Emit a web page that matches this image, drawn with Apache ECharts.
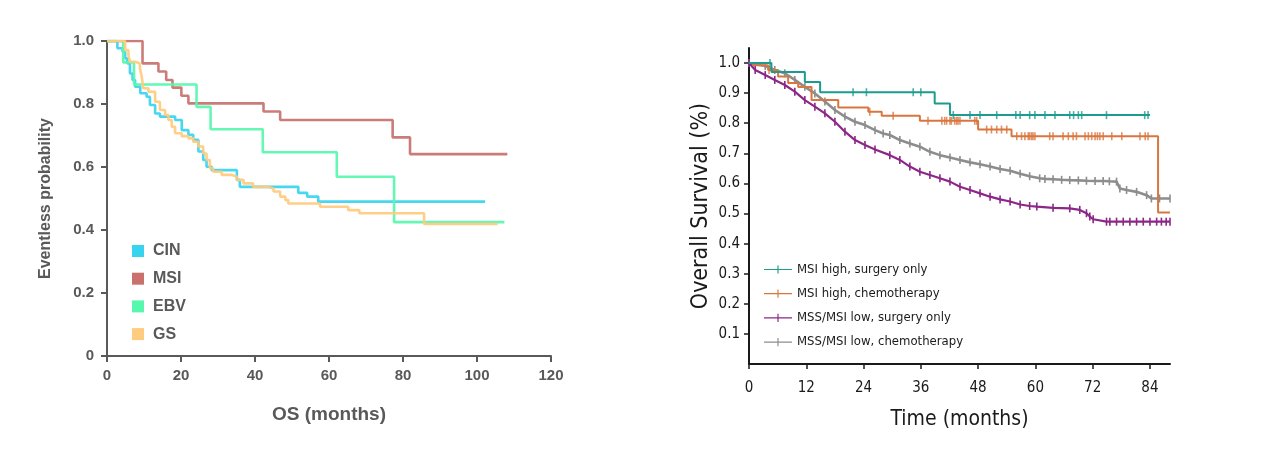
<!DOCTYPE html>
<html><head><meta charset="utf-8">
<script src="https://cdn.jsdelivr.net/npm/echarts@6/dist/echarts.min.js"></script>
<style>html,body{margin:0;padding:0;background:#fff}#c{width:1269px;height:475px}</style>
</head><body><div id="c"></div>
<script>
// ---------- Left chart data (OS, months vs eventless probability) ----------
const leftXTicks = [0, 20, 40, 60, 80, 100, 120];
const leftYTicks = [0, 0.2, 0.4, 0.6, 0.8, 1.0];
const leftNames = ['CIN', 'MSI', 'EBV', 'GS'];
const cin = [[0,1],[2.8,0.977],[4.2,0.966],[4.9,0.945],[5.5,0.929],[6.2,0.897],[6.9,0.876],[7.6,0.855],[9.0,0.834],[10.7,0.823],[11.6,0.797],[13.0,0.77],[14.3,0.76],[18.4,0.749],[20.2,0.717],[22.0,0.702],[23.3,0.686],[24.7,0.649],[26.0,0.622],[26.9,0.601],[28.3,0.59],[35.1,0.559],[35.9,0.537],[51.7,0.518],[54.1,0.506],[57.1,0.49],[102.2,0.49]];
const msi = [[0,1],[9.6,0.929],[13.9,0.903],[16.0,0.876],[17.7,0.852],[20.1,0.826],[22.0,0.802],[42.3,0.776],[46.8,0.749],[77.2,0.694],[81.9,0.641],[108.2,0.641]];
const ebv = [[0,1],[4.4,0.932],[7.3,0.862],[24.2,0.791],[28.0,0.72],[42.1,0.647],[62.1,0.569],[77.6,0.425],[107.4,0.425]];
const gs = [[0,1],[4.9,0.971],[5.8,0.955],[6.2,0.934],[7.6,0.929],[8.9,0.913],[9.4,0.887],[9.8,0.85],[11.2,0.839],[13.0,0.807],[14.3,0.781],[15.7,0.765],[16.6,0.749],[17.5,0.728],[18.4,0.707],[20.2,0.698],[22.0,0.691],[23.3,0.68],[24.7,0.665],[26.0,0.643],[26.9,0.622],[27.8,0.596],[28.7,0.585],[31.0,0.575],[33.7,0.569],[35.1,0.559],[36.9,0.548],[39.5,0.537],[43.2,0.532],[45.0,0.522],[46.8,0.506],[48.2,0.495],[49.0,0.484],[57.6,0.474],[65.2,0.463],[68.2,0.453],[85.7,0.419],[105.6,0.419]];

// ---------- Right chart data (time, months vs overall survival) ----------
const rightXTicks = [0, 12, 24, 36, 48, 60, 72, 84];
const rightYTicks = [0.1, 0.2, 0.3, 0.4, 0.5, 0.6, 0.7, 0.8, 0.9, 1.0];
const rightNames = ['MSI high, surgery only', 'MSI high, chemotherapy', 'MSS/MSI low, surgery only', 'MSS/MSI low, chemotherapy'];
const msiHighSurgery = [[0,1],[4.7,0.970],[11.7,0.937],[14.9,0.903],[38.9,0.866],[42.1,0.827],[84.0,0.827]];
const msiHighSurgeryCensor = [4.4,21.8,24.6,34.4,36.0,42.8,46.3,48.4,51.9,55.9,56.8,58.8,59.9,62.0,64.1,67.2,68.0,69.0,69.7,74.9,82.9,83.6];
const msiHighChemo = [[0,1],[0.9,0.993],[4.0,0.977],[6.1,0.955],[8.2,0.934],[10.3,0.92],[13.1,0.877],[18.7,0.852],[25.0,0.838],[27.8,0.825],[35.8,0.808],[48.0,0.779],[55.0,0.757],[85.7,0.503],[88.2,0.503]];
const msiHighChemoCensor = [4.2,25.3,30.2,37.5,40.4,41.0,41.4,42.1,42.4,43.1,43.5,43.8,44.2,47.3,47.7,49.8,50.8,51.9,52.9,54.0,56.1,57.1,57.8,58.5,58.8,59.2,59.5,59.9,63.0,63.7,65.8,66.9,67.9,68.6,70.4,71.1,71.8,72.5,73.0,73.5,74.2,76.0,78.1,81.9,83.0,83.6];
const mssSurgery = [[0,1.0],[1.3,0.977],[3.4,0.96],[5.4,0.944],[7.5,0.927],[9.6,0.905],[11.7,0.877],[13.8,0.855],[15.9,0.833],[18.0,0.805],[20.1,0.772],[22.2,0.744],[24.3,0.728],[26.4,0.713],[29.5,0.694],[31.6,0.678],[33.7,0.656],[35.8,0.639],[37.9,0.628],[40.0,0.617],[42.1,0.606],[44.2,0.589],[46.3,0.578],[48.4,0.567],[50.5,0.556],[52.6,0.547],[54.7,0.540],[56.8,0.530],[58.8,0.525],[60.3,0.523],[63.7,0.519],[67.2,0.517],[69.3,0.512],[70.7,0.501],[71.4,0.490],[72.1,0.481],[74.9,0.473],[75.6,0.473],[77.0,0.473],[78.4,0.473],[79.8,0.473],[81.2,0.473],[82.6,0.473],[84.0,0.473],[85.4,0.473],[86.4,0.473],[87.4,0.473],[88.2,0.473]];
const mssChemo = [[0,1.0],[3.4,0.99],[5.4,0.977],[7.5,0.966],[9.6,0.944],[11.7,0.921],[13.8,0.899],[15.9,0.872],[18.0,0.844],[20.1,0.822],[22.2,0.805],[24.3,0.794],[26.4,0.777],[28.1,0.766],[29.5,0.761],[31.6,0.744],[33.7,0.733],[35.8,0.722],[37.9,0.705],[40.0,0.694],[42.1,0.686],[44.2,0.678],[46.3,0.670],[48.4,0.664],[50.5,0.656],[52.6,0.648],[54.7,0.642],[56.8,0.632],[58.8,0.624],[60.9,0.617],[62.0,0.615],[63.7,0.614],[65.5,0.612],[67.2,0.611],[69.0,0.610],[70.7,0.609],[72.5,0.608],[74.2,0.608],[75.5,0.607],[77.0,0.606],[77.7,0.583],[79.1,0.578],[81.2,0.572],[83.3,0.561],[84.3,0.550],[86.0,0.550],[88.2,0.550]];

// ---------- styling ----------
const leftColors = ['#38d4ef', '#c8716d', '#58f7ae', '#ffcb7e'];
const rightColors = ['#1c9c8e', '#d9763f', '#8b2787', '#8d8d8d'];
const leftFont = "'Liberation Sans', Arial, sans-serif";
const rightFont = "'Liberation Sans Narrow', 'Arial Narrow', 'DejaVu Sans Condensed', sans-serif";
const leftGray = '#595959';
const rightInk = '#1a1a1a';
const legendIconR = 'path://M0,9H48V11H0Z M23,3H25V17H23Z';

// survival value at time t on a step curve (lookup of the read curve)
function stepAt(curve, t) {
  let v = curve[0][1];
  for (const p of curve) { if (p[0] <= t) v = p[1]; }
  return v;
}

const chart = echarts.init(document.getElementById('c'), null, {renderer: 'canvas'});

const leftSeries = [cin, msi, ebv, gs].map((d, i) => ({
  name: leftNames[i], type: 'line', step: 'end', xAxisIndex: 0, yAxisIndex: 0,
  data: d, showSymbol: false, color: leftColors[i],
  lineStyle: {width: 2.6, color: leftColors[i], opacity: 0.92}, z: 2 + (i === 3 ? 1 : 0)
}));

const tick = 'rect';
const rightSeries = [
  {name: rightNames[0], type: 'line', step: 'end', xAxisIndex: 1, yAxisIndex: 1, data: msiHighSurgery, showSymbol: false, color: rightColors[0], lineStyle: {width: 2, color: rightColors[0]}, z: 5},
  {name: rightNames[0], type: 'scatter', xAxisIndex: 1, yAxisIndex: 1, data: msiHighSurgeryCensor.map(t => [t, stepAt(msiHighSurgery, t)]), symbol: tick, symbolSize: [1.6, 8], color: rightColors[0], z: 5},
  {name: rightNames[1], type: 'line', step: 'end', xAxisIndex: 1, yAxisIndex: 1, data: msiHighChemo, showSymbol: false, color: rightColors[1], lineStyle: {width: 2, color: rightColors[1]}, z: 4},
  {name: rightNames[1], type: 'scatter', xAxisIndex: 1, yAxisIndex: 1, data: msiHighChemoCensor.map(t => [t, stepAt(msiHighChemo, t)]), symbol: tick, symbolSize: [1.6, 8], color: rightColors[1], z: 4},
  {name: rightNames[2], type: 'line', xAxisIndex: 1, yAxisIndex: 1, data: mssSurgery, showSymbol: true, showAllSymbol: true, symbol: tick, symbolSize: [1.6, 8], color: rightColors[2], itemStyle: {color: rightColors[2]}, lineStyle: {width: 2.2, color: rightColors[2]}, z: 3},
  {name: rightNames[3], type: 'line', xAxisIndex: 1, yAxisIndex: 1, data: mssChemo, showSymbol: true, showAllSymbol: true, symbol: tick, symbolSize: [1.6, 8], color: rightColors[3], itemStyle: {color: rightColors[3]}, lineStyle: {width: 2.6, color: rightColors[3]}, z: 2}
];

const option = {
  animation: false,
  backgroundColor: '#ffffff',
  grid: [
    {left: 107, top: 41, width: 444, height: 315, containLabel: false},
    {left: 749, top: 48, width: 421, height: 316, containLabel: false}
  ],
  legend: [
    {
      orient: 'vertical', left: 127, top: 238, itemWidth: 12, itemHeight: 12, itemGap: 11.7,
      icon: 'rect', data: leftNames, selectedMode: false,
      textStyle: {fontFamily: leftFont, fontWeight: 'bold', fontSize: 16, color: leftGray, padding: [0, 0, 0, 4]}
    },
    {
      orient: 'vertical', left: 759, top: 258, itemWidth: 28, itemHeight: 12, itemGap: 11.2,
      data: rightNames.map(n => ({name: n, icon: legendIconR})), selectedMode: false,
      textStyle: {fontFamily: rightFont, fontSize: 13, color: rightInk}
    }
  ],
  xAxis: [
    {
      gridIndex: 0, type: 'value', min: 0, max: 120, interval: 20,
      name: 'OS (months)', nameLocation: 'middle', nameGap: 49,
      nameTextStyle: {fontFamily: leftFont, fontWeight: 'bold', fontSize: 19, color: leftGray},
      axisLine: {show: true, lineStyle: {color: leftGray, width: 2}},
      axisTick: {show: true, length: 6, lineStyle: {color: leftGray, width: 2}, customValues: leftXTicks},
      axisLabel: {margin: 12, fontFamily: leftFont, fontWeight: 'bold', fontSize: 15, color: leftGray, customValues: leftXTicks},
      splitLine: {show: false}
    },
    {
      gridIndex: 1, type: 'value', min: 0, max: 88.2, interval: 12,
      name: 'Time (months)', nameLocation: 'middle', nameGap: 45,
      nameTextStyle: {fontFamily: rightFont, fontSize: 21, color: rightInk},
      axisLine: {show: true, lineStyle: {color: rightInk, width: 2}},
      axisTick: {show: true, length: 5, lineStyle: {color: rightInk, width: 1.5}, customValues: rightXTicks},
      axisLabel: {margin: 17, fontFamily: rightFont, fontSize: 15, color: rightInk, customValues: rightXTicks},
      splitLine: {show: false}
    }
  ],
  yAxis: [
    {
      gridIndex: 0, type: 'value', min: 0, max: 1, interval: 0.2,
      name: 'Eventless probability', nameLocation: 'middle', nameGap: 53, nameRotate: 90,
      nameTextStyle: {fontFamily: leftFont, fontWeight: 'bold', fontSize: 16, color: leftGray},
      axisLine: {show: true, lineStyle: {color: leftGray, width: 2}},
      axisTick: {show: true, length: 6, lineStyle: {color: leftGray, width: 2}, customValues: leftYTicks},
      axisLabel: {margin: 13, fontFamily: leftFont, fontWeight: 'bold', fontSize: 15, color: leftGray, customValues: leftYTicks,
        formatter: v => (v === 0 ? '0' : v.toFixed(1))},
      splitLine: {show: false}
    },
    {
      gridIndex: 1, type: 'value', min: 0, max: 1.05, interval: 0.1,
      name: 'Overall Survival (%)', nameLocation: 'middle', nameGap: 36, nameRotate: 90,
      nameTextStyle: {fontFamily: rightFont, fontSize: 23, color: rightInk},
      axisLine: {show: true, lineStyle: {color: rightInk, width: 2}},
      axisTick: {show: true, length: 5, lineStyle: {color: rightInk, width: 1.5}, customValues: rightYTicks},
      axisLabel: {margin: 9, fontFamily: rightFont, fontSize: 15, color: rightInk, customValues: rightYTicks,
        formatter: v => v.toFixed(1)},
      splitLine: {show: false}
    }
  ],
  series: leftSeries.concat(rightSeries)
};
chart.setOption(option);
</script>
</body></html>
